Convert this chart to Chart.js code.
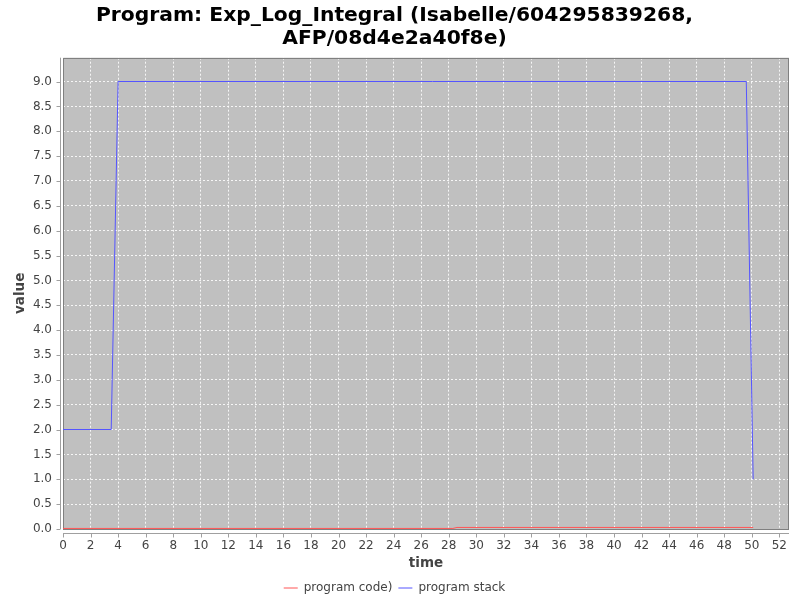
<!DOCTYPE html>
<html>
<head>
<meta charset="utf-8">
<script src="https://cdn.jsdelivr.net/npm/chart.js@4.4.0/dist/chart.umd.min.js"></script>
<style>
html,body{margin:0;padding:0;background:#fff;}
#wrap{width:800px;height:600px;position:relative;}
</style>
</head>
<body>
<div id="wrap"><canvas id="c" width="800" height="600"></canvas></div>
<script>
const titleLines = ["Program: Exp_Log_Integral (Isabelle/604295839268,", "AFP/08d4e2a40f8e)"];
const seriesNames = ["program code)", "program stack"];
const codeTime = [0, 28.3, 28.6, 50.1];
const codeValues = [0.01, 0.01, 0.03, 0.03];
const stackTime = [0, 3.5, 4.0, 49.6, 50.1];
const stackValues = [2.0, 2.0, 9.0, 9.0, 1.0];
const xTitle = "time";
const yTitle = "value";

const FONT = "'DejaVu Sans', sans-serif";

const bgPlugin = {
  id: 'plotbg',
  beforeDraw(chart) {
    const a = chart.chartArea, ctx = chart.ctx;
    ctx.save();
    ctx.fillStyle = '#c0c0c0';
    ctx.fillRect(a.left, a.top, a.right - a.left, a.bottom - a.top);
    ctx.restore();
  },
  beforeDatasetsDraw(chart) {
    const a = chart.chartArea, ctx = chart.ctx;
    const xs = chart.scales.x, ys = chart.scales.y;
    ctx.save();
    ctx.strokeStyle = '#808080';
    ctx.lineWidth = 1;
    ctx.strokeRect(Math.round(a.left) + 0.5, Math.round(a.top) + 0.5, Math.round(a.right - a.left) - 1, Math.round(a.bottom - a.top));
    // offset axis lines and tick marks (JFreeChart style)
    ctx.strokeStyle = '#a0a0a0';
    const ax = Math.round(a.left) - 3 + 0.5;
    const ay = Math.round(a.bottom) + 4 + 0.5;
    ctx.beginPath();
    ctx.moveTo(ax, a.top);
    ctx.lineTo(ax, a.bottom);
    ctx.moveTo(a.left, ay);
    ctx.lineTo(a.right, ay);
    ys.ticks.forEach(t => {
      const py = Math.round(ys.getPixelForValue(t.value)) + 0.5;
      ctx.moveTo(ax, py);
      ctx.lineTo(ax - 4, py);
    });
    xs.ticks.forEach(t => {
      const px = Math.round(xs.getPixelForValue(t.value)) + 0.5;
      ctx.moveTo(px, ay);
      ctx.lineTo(px, ay + 4);
    });
    ctx.stroke();
    ctx.restore();
    // snap the horizontal runs of the lines onto pixel centres
    const p = ys.getPixelForValue(Math.max(...stackValues));
    ctx.save();
    ctx.translate(0, Math.floor(p) + 0.5 - p);
  },
  afterDatasetsDraw(chart) {
    chart.ctx.restore();
  }
};

new Chart(document.getElementById('c'), {
  type: 'line',
  data: {
    datasets: [
      {
        label: seriesNames[0],
        data: codeTime.map((t, i) => ({x: t, y: codeValues[i]})),
        borderColor: '#ff5555',
        backgroundColor: '#ff5555',
        borderWidth: 1,
        pointRadius: 0,
        tension: 0,
        fill: false
      },
      {
        label: seriesNames[1],
        data: stackTime.map((t, i) => ({x: t, y: stackValues[i]})),
        borderColor: '#5555ff',
        backgroundColor: '#5555ff',
        borderWidth: 1,
        pointRadius: 0,
        tension: 0,
        fill: false
      }
    ]
  },
  options: {
    responsive: false,
    animation: false,
    devicePixelRatio: 1,
    layout: {padding: {left: 0, right: 11, top: 0, bottom: -4}},
    plugins: {
      title: {
        display: true,
        text: titleLines,
        color: '#000',
        font: {family: FONT, size: 20.3, weight: 'bold', lineHeight: 1.15},
        padding: {top: 4, bottom: 7}
      },
      legend: {
        position: 'bottom',
        labels: {
          usePointStyle: true,
          pointStyle: 'line',
          pointStyleWidth: 14,
          boxHeight: 1,
          color: '#444',
          font: {family: FONT, size: 12},
          padding: 6
        }
      },
      tooltip: {enabled: false}
    },
    scales: {
      x: {
        type: 'linear',
        min: 0,
        max: 52.7,
        afterFit(s) { s.height = 47; },
        ticks: {
          stepSize: 2,
          includeBounds: false,
          autoSkip: false,
          maxRotation: 0,
          color: '#444',
          font: {family: FONT, size: 12},
          padding: 2,
          callback: v => String(v)
        },
        grid: {
          color: 'rgba(255,255,255,0.85)',
          lineWidth: 1,
          tickLength: 8,
          tickColor: 'rgba(0,0,0,0)',
          drawTicks: true
        },
        border: {display: false, dash: [2, 2]},
        title: {
          display: true,
          text: xTitle,
          color: '#444',
          font: {family: FONT, size: 13.5, weight: 'bold'},
          padding: {top: 0, bottom: 4}
        }
      },
      y: {
        type: 'linear',
        min: 0,
        max: 9.48,
        afterFit(s) { s.width = 63; },
        ticks: {
          stepSize: 0.5,
          includeBounds: false,
          autoSkip: false,
          color: '#444',
          font: {family: FONT, size: 12},
          padding: 3,
          callback: v => v.toFixed(1)
        },
        grid: {
          color: 'rgba(255,255,255,0.85)',
          lineWidth: 1,
          tickLength: 8,
          tickColor: 'rgba(0,0,0,0)',
          drawTicks: true
        },
        border: {display: false, dash: [2, 2]},
        title: {
          display: true,
          text: yTitle,
          color: '#444',
          font: {family: FONT, size: 13.5, weight: 'bold'},
          padding: {top: 12, bottom: 4}
        }
      }
    }
  },
  plugins: [bgPlugin]
});
</script>
</body>
</html>
